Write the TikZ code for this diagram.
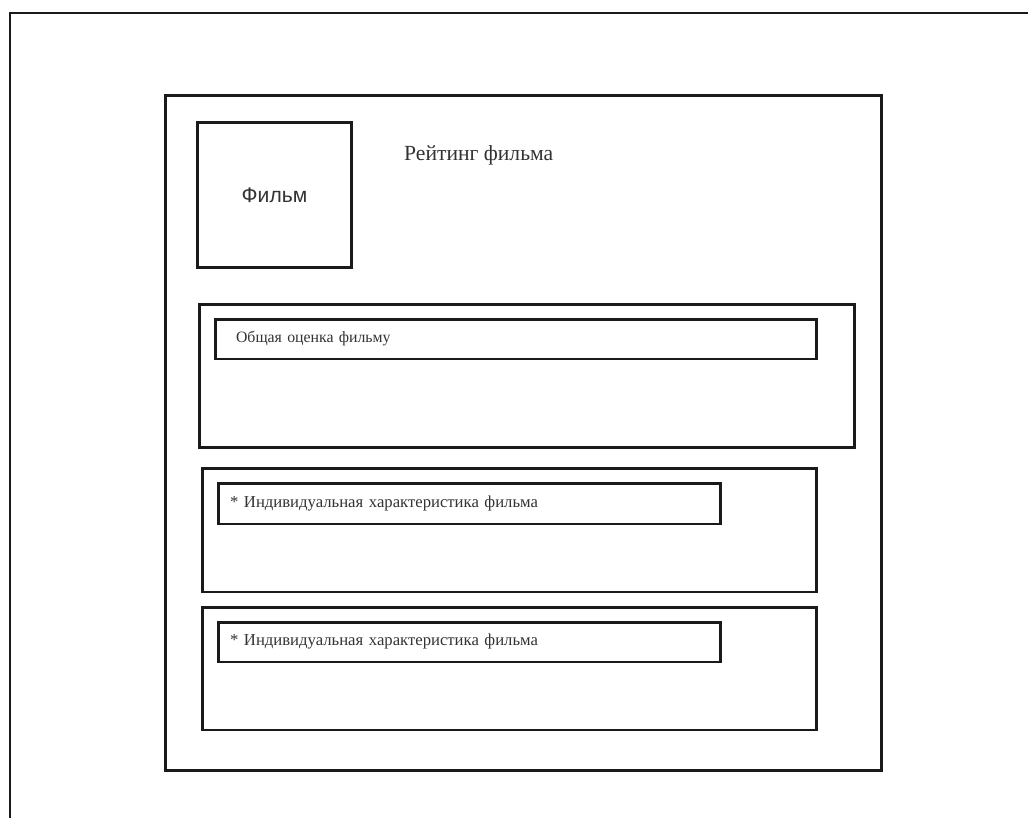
\documentclass[tikz,border=0pt]{standalone}
\usepackage{fontspec}
\setmainfont{Liberation Serif}
\setsansfont{Liberation Sans}
\usepackage{xcolor}
\usepackage{tikz}
\usetikzlibrary{positioning,calc}
\definecolor{frameink}{HTML}{1A1A1A}
\definecolor{textink}{HTML}{333333}

\begin{document}
\begin{tikzpicture}[
      x=0.02cm, y=-0.02cm,
      box/.style={draw=frameink, line width=1.7pt, rectangle, inner sep=0pt},
      field/.style={box, align=left, font=\fontsize{9.5}{11}\selectfont, text=textink},
      lbl/.style={font=\fontsize{12.3}{14}\selectfont, text=textink}]
    \useasboundingbox (0,0) rectangle (1028,818);
    \clip (0,0) rectangle (1028,818);
    \draw[frameink, line width=1.7pt] (10,840) -- (10,13) -- (1050,13);
    \node[box, minimum width=14.34cm, minimum height=13.52cm] (page) at (523.5,433) {};
    \node[box, minimum width=3.1cm, minimum height=2.92cm, font=\sffamily\fontsize{12}{14}\selectfont, text=textink] (film) at (274.5,195) {Фильм};
    \node[lbl, anchor=west] (rating) at (398,155) {Рейтинг фильма};
    \node[box, minimum width=13.12cm, minimum height=2.88cm] (total) at (527,376) {};
    \node[field, minimum height=0.8cm, text width=11.2cm, inner xsep=0.42cm, font=\fontsize{9}{11}\selectfont] (totalf) at (516,339) {Общая оценка фильму};
    \node[box, minimum width=12.3cm, minimum height=2.48cm] (ind1) at (509.5,530) {};
    \node[field, minimum height=0.82cm, text width=9.58cm, inner xsep=0.24cm] (ind1f) at (469.5,503.5) {* Индивидуальная характеристика фильма};
    \node[box, minimum width=12.3cm, minimum height=2.46cm] (ind2) at (509.5,668.5) {};
    \node[field, minimum height=0.8cm, text width=9.58cm, inner xsep=0.24cm] (ind2f) at (469.5,642) {* Индивидуальная характеристика фильма};
  \end{tikzpicture}
\end{document}
